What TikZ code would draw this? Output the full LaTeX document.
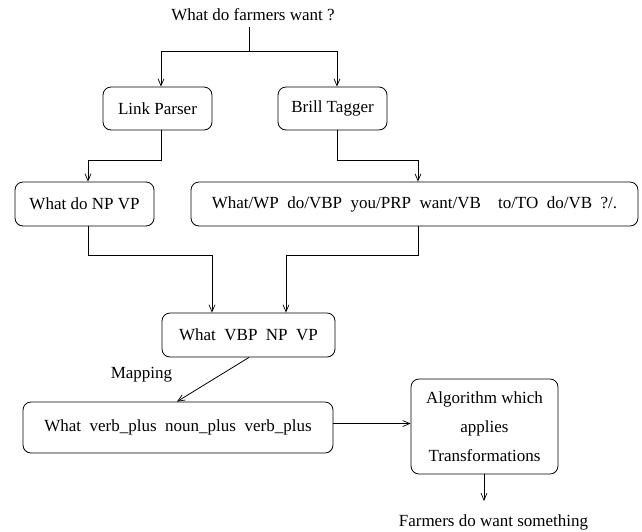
\documentclass[tikz,border=0pt]{standalone}
\usepackage{fontspec}
\setmainfont{Liberation Serif}
\usetikzlibrary{arrows.meta}
\begin{document}
\begin{tikzpicture}[x=1pt,y=-1pt,
  every node/.style={font=\fontsize{17}{29}\selectfont, inner sep=0pt},
  box/.style={draw, line width=0.8pt, rounded corners=8pt, align=center},
  conn/.style={line width=0.8pt},
  arr/.style={conn, -{Straight Barb[length=7pt,width=6pt,line width=0.7pt]}}]
\useasboundingbox (0,0) rectangle (642,531);
\newcommand{\gp}{\hspace{0.5em}}
% nodes
\node (top) at (253,15) {What do farmers want ?};
\node[box, minimum width=109, minimum height=43] (lp) at (157.5,108.5) {Link Parser};
\node[box, minimum width=109, minimum height=43] (bt) at (332.5,108.5) {Brill Tagger};
\node[box, minimum width=139, minimum height=44] (np) at (84.5,204) {What do NP VP};
\node[box, minimum width=447, minimum height=44] (tag) at (414.5,204)
  {What/WP\gp do/VBP\gp you/PRP\gp want/VB\gp\gp to/TO\gp do/VB\gp ?/.};
\node[box, minimum width=173, minimum height=44] (vbp) at (248.5,335) {What\gp VBP\gp NP\gp VP};
\node (map) at (141.5,375) {Mapping};
\node[box, minimum width=310, minimum height=51] (vp) at (178,427.5) {What\gp verb\_plus\gp noun\_plus\gp verb\_plus};
\node[box, minimum width=147, minimum height=95] (alg) at (484.5,426.5) {Algorithm which\\applies\\Transformations};
\node (out) at (493.5,522) {Farmers do want something};
% helper coordinates
\coordinate (j1) at (249,51);
\coordinate (e1) at (484,501);
% connectors
\draw[conn] (j1 |- top.south) ++(0,6) -- (j1);
\draw[arr] (j1) -| ([xshift=3.5pt]lp.north);
\draw[arr] (j1) -| ([xshift=4.5pt]bt.north);
\draw[arr] ([xshift=3.5pt]lp.south) -- ++(0,30) -| ([xshift=3.5pt]np.north);
\draw[arr] ([xshift=4.5pt]bt.south) -- ++(0,30) -| ([xshift=3.5pt]tag.north);
\draw[arr] ([xshift=3.5pt]np.south) -- ++(0,29) -| ([xshift=-36.5pt]vbp.north);
\draw[arr] ([xshift=3.5pt]tag.south) -- ++(0,29) -| ([xshift=37.5pt]vbp.north);
\draw[arr] ([xshift=0.5pt]vbp.south) -- ([xshift=-1pt]vp.north);
\draw[arr] ([yshift=4pt]vp.east) -- ([yshift=3pt]alg.west);
\draw[arr] ([xshift=-0.5pt]alg.south) -- (e1);
\end{tikzpicture}
\end{document}
